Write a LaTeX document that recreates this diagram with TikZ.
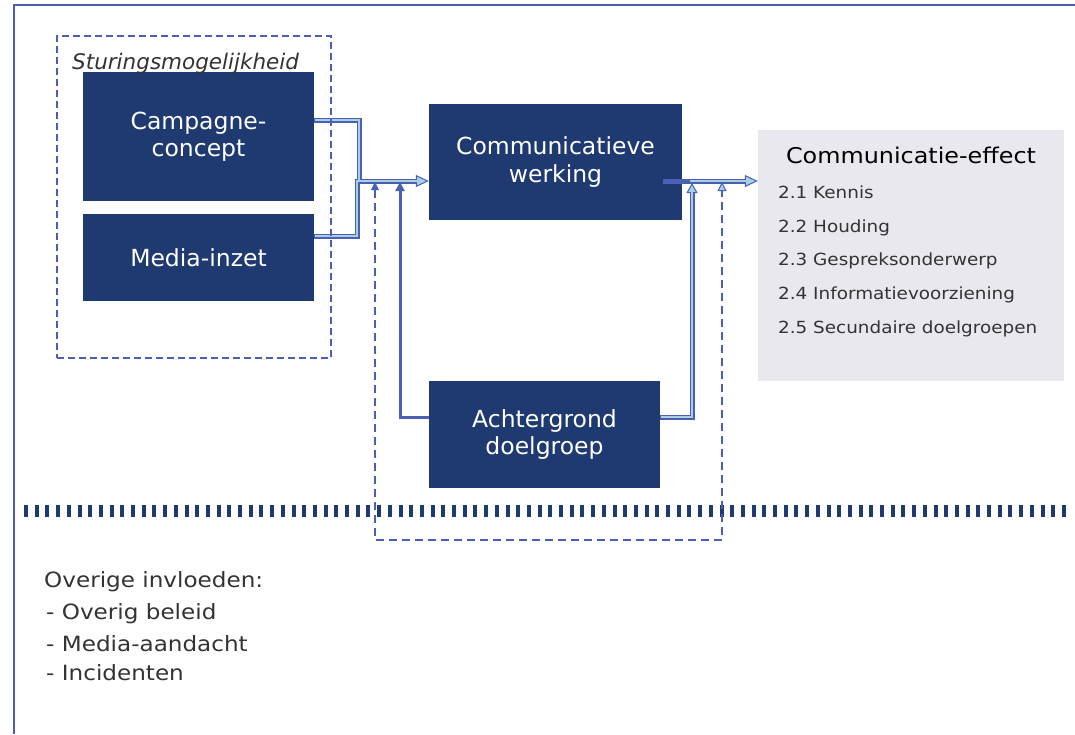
\documentclass[tikz,border=0pt]{standalone}
\usepackage{fontspec}
\setmainfont{DejaVu Sans}
\newfontfamily\widefont{DejaVu Sans}[FakeStretch=1.1]
\usetikzlibrary{arrows.meta}
\definecolor{navy}{RGB}{31,58,112}
\definecolor{lineblue}{RGB}{75,95,180}
\definecolor{lightcon}{RGB}{168,208,224}
\definecolor{effgray}{RGB}{232,232,238}
\definecolor{txtgray}{RGB}{51,51,51}
\begin{document}
\begin{tikzpicture}[x=1pt,y=-1pt,
  navybox/.style={fill=navy, draw=none, text=white, align=center, inner sep=0pt,
    font=\fontsize{23.5}{27.5}\selectfont},
  effbox/.style={fill=effgray, draw=none, inner sep=0pt},
  sturbox/.style={draw=lineblue, line width=2pt, dash pattern=on 7pt off 4pt, inner sep=0pt},
  conout/.style={draw=lineblue, line width=5pt},
  conin/.style={draw=lightcon, line width=2.6pt},
  bigtip/.style={-{Triangle[length=13pt,width=12pt,line width=1pt,fill=lightcon]}},
  solidcon/.style={draw=lineblue, line width=3pt, -{Triangle[length=9pt,width=9pt]}},
  dashcon/.style={draw=lineblue, line width=2.5pt, dash pattern=on 8pt off 5pt,
    {Triangle[length=8pt,width=8pt,line width=1pt,fill=lineblue]}-{Triangle[length=9pt,width=9pt,line width=1pt,fill=lightcon]}},
  bodytext/.style={text=txtgray, inner sep=0pt, anchor=base west,
    font=\widefont\fontsize{21}{25}\selectfont},
  itemtext/.style={text=txtgray, inner sep=0pt, anchor=base west,
    font=\widefont\fontsize{16.7}{20}\selectfont},
  frameline/.style={draw=lineblue, line width=2pt},
  sepline/.style={draw=navy, line width=12pt, dash pattern=on 4pt off 6.7pt}
]
\useasboundingbox (0,0) rectangle (1075,734);

% frame
\coordinate (fBL) at (14,734);
\coordinate (fTL) at (14,5);
\coordinate (fTR) at (1075,5);
\draw[frameline] (fBL) -- (fTL) -- (fTR);

% boxes
\node[navybox, minimum width=231pt, minimum height=129pt] (camp) at (198.5,136.5) {Campagne-\\concept};
\node[navybox, minimum width=231pt, minimum height=87pt] (media) at (198.5,257.5) {Media-inzet};
\node[navybox, minimum width=253pt, minimum height=116pt] (werk) at (555.5,162) {Communicatieve\\werking};
\node[navybox, minimum width=231pt, minimum height=107pt] (acht) at (544.5,434.5) {Achtergrond\\doelgroep};
\node[effbox, minimum width=306pt, minimum height=251pt] (eff) at (911,255.5) {};
\node[anchor=base, inner sep=0pt, font=\widefont\fontsize{21.7}{26}\selectfont] (efftitle) at (911,163) {Communicatie-effect};
\node[itemtext] (i1) at (778,198) {2.1 Kennis};
\node[itemtext] (i2) at (778,232) {2.2 Houding};
\node[itemtext] (i3) at (778,265) {2.3 Gespreksonderwerp};
\node[itemtext] (i4) at (778,299) {2.4 Informatievoorziening};
\node[itemtext] (i5) at (778,333) {2.5 Secundaire doelgroepen};

% separator
\coordinate (sepL) at (24,511);
\coordinate (sepR) at (1068,511);
\draw[sepline] (sepL) -- (sepR);

% coordinates for connectors
\coordinate (jA) at (359,120);
\coordinate (jB) at (359,181);
\coordinate (jC) at (357,236);
\coordinate (jD) at (357,181);
\coordinate (kA) at (400,417);
\coordinate (kB) at (400,182);
\coordinate (dA) at (375,182);
\coordinate (dB) at (375,540);
\coordinate (dC) at (722,540);
\coordinate (dD) at (722,182);
\coordinate (mA) at (692,417);
\coordinate (mB) at (692,183);
\coordinate (wS) at (663,181);
\coordinate (wM) at (690,181);

% double connectors: outer
\draw[conout] (camp.east |- jA) -- (jA) -- (jB);
\draw[conout, bigtip] (media.east |- jC) -- (jC) -- (jD) -- (werk.west |- jD);
\draw[conout, bigtip] (wS) -- (eff.west |- wS);
\draw[conout, -{Triangle[length=10pt,width=11pt,line width=1pt,fill=lightcon]}] (acht.east |- mA) -- (mA) -- (mB);
% inner
\draw[conin] ([xshift=1pt]camp.east |- jA) -- (jA) -- (jB);
\draw[conin, shorten >=12pt] ([xshift=1pt]media.east |- jC) -- (jC) -- (jD) -- (werk.west |- jD);
\draw[conin, shorten >=12pt] (wM) -- (eff.west |- wS);
\draw[conin, shorten >=9pt] ([xshift=1pt]acht.east |- mA) -- (mA) -- (mB);

% solid connector from Achtergrond
\draw[solidcon] (acht.west |- kA) -- (kA) -- (kB);

% dashed loop
\draw[dashcon] (dA) -- (dB) -- (dC) -- (dD);

% Sturingsmogelijkheid
\node[sturbox, minimum width=274pt, minimum height=322pt] (stur) at (194,197) {};
\node[anchor=base west, inner sep=0pt, text=txtgray, font=\itshape\fontsize{21.5}{25}\selectfont] (sturlabel) at (72,69) {Sturingsmogelijkheid};

% Overige invloeden
\node[bodytext] (ov0) at (44,587) {Overige invloeden:};
\node[bodytext] (ov1) at (46,619) {- Overig beleid};
\node[bodytext] (ov2) at (46,651) {- Media-aandacht};
\node[bodytext] (ov3) at (46,680) {- Incidenten};
\end{tikzpicture}
\end{document}
